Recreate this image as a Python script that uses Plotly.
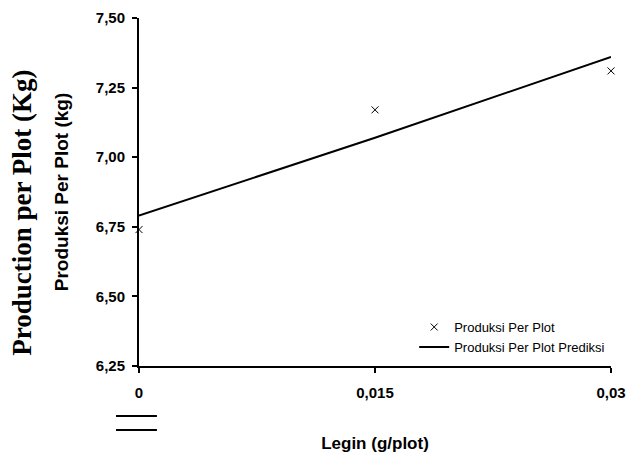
import plotly.graph_objects as go

x_vals = [0, 0.015, 0.03]
x_ticktext = ["0", "0,015", "0,03"]
produksi = [6.74, 7.17, 7.31]
prediksi = [6.79, 7.07, 7.36]
y_ticks = [6.25, 6.50, 6.75, 7.00, 7.25, 7.50]

FONT = "Arial, Liberation Sans, sans-serif"

fig = go.Figure()
fig.add_trace(go.Scatter(
    x=x_vals, y=produksi, mode="markers", name="Produksi Per Plot",
    marker=dict(symbol="x-thin", size=7, color="black", line=dict(width=1, color="black")),
    cliponaxis=False,
))
fig.add_trace(go.Scatter(
    x=x_vals, y=prediksi, mode="lines", name="Produksi Per Plot Prediksi",
    line=dict(color="black", width=2),
    cliponaxis=False,
))

fig.update_layout(
    width=627, height=455,
    margin=dict(l=139, r=16, t=18, b=89, autoexpand=False),
    paper_bgcolor="white", plot_bgcolor="white",
    separators=",.",
    font=dict(family=FONT, color="black"),
    showlegend=True,
    legend=dict(
        x=0.583, y=0.155, xanchor="left", yanchor="top",
        bgcolor="rgba(0,0,0,0)", font=dict(size=13, family=FONT),
        itemwidth=30, tracegroupgap=0,
    ),
    xaxis=dict(
        range=[0, 0.03], tickvals=x_vals, ticktext=x_ticktext,
        showline=True, linecolor="black", linewidth=2, mirror=False,
        ticks="outside", ticklen=5, tickwidth=2, tickcolor="black",
        showgrid=False, zeroline=False, automargin=False,
        ticklabelstandoff=7,
        tickfont=dict(size=15, family=FONT, weight="bold"),
        title=dict(text="Legin (g/plot)", font=dict(size=17, family=FONT, weight="bold"), standoff=37),
    ),
    yaxis=dict(
        range=[6.25, 7.5], tickvals=y_ticks, tickformat=".2f",
        showline=True, linecolor="black", linewidth=2,
        ticks="outside", ticklen=5, tickwidth=2, tickcolor="black",
        showgrid=False, zeroline=False, automargin=False,
        ticklabelstandoff=4,
        tickfont=dict(size=15, family=FONT, weight="bold"),
        title=dict(text="Produksi Per Plot (kg)", font=dict(size=19, family=FONT, weight="bold"), standoff=22),
    ),
)

fig.add_annotation(
    text="Production per Plot (Kg)", textangle=-90,
    xref="paper", yref="paper", x=-0.248, y=0.44, xanchor="center", yanchor="middle",
    showarrow=False,
    font=dict(size=27, family="Times New Roman, Liberation Serif, serif", weight="bold"),
)

for yy in [-0.1437, -0.184]:
    fig.add_shape(type="line", xref="paper", yref="paper",
                  x0=-0.0487, x1=0.038, y0=yy, y1=yy,
                  line=dict(color="black", width=2))

fig.write_html(
    "out.html",
    config={"displayModeBar": False},
    post_script="document.body.style.margin='0';document.body.style.overflow='hidden';",
)
